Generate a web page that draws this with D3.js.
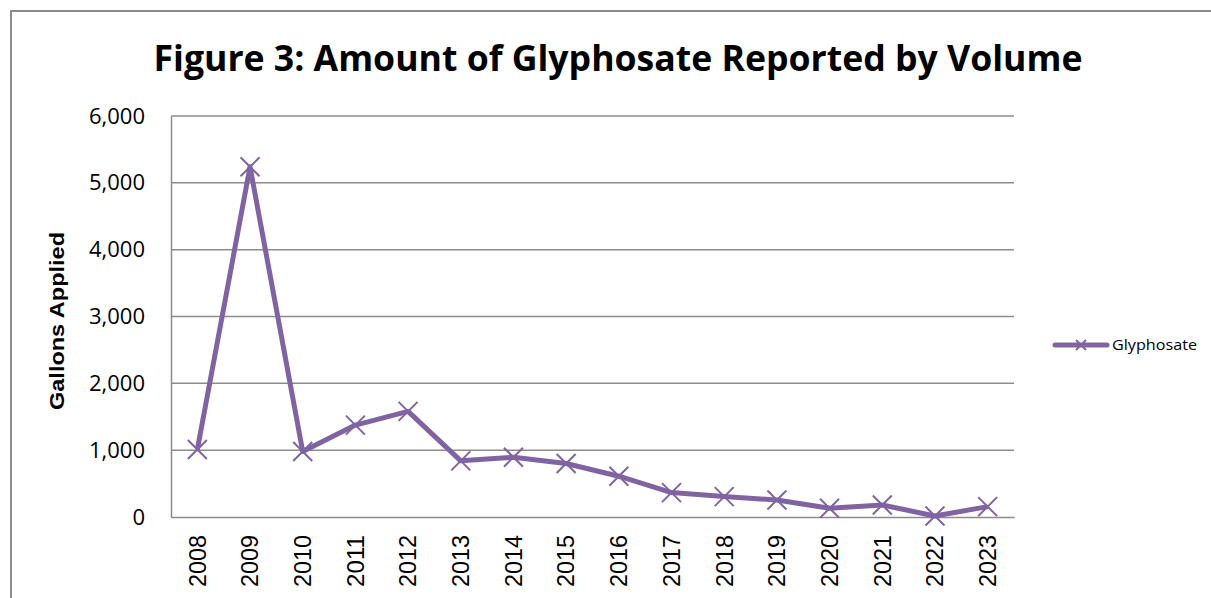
<!DOCTYPE html>
<html lang="en">
<head>
<meta charset="utf-8">
<title>Figure 3: Amount of Glyphosate Reported by Volume</title>
<style type="text/css">
  body { margin: 0; background-color: white; }
  svg { display: block; }
  .grid line { stroke: #8c8c8c; stroke-width: 1.5px; }
  .axis path, .axis line { stroke: #8c8c8c; stroke-width: 1.5px; fill: none; }
  .axis text { fill: #000; }
  path.line { fill: none; stroke: #8064a2; stroke-width: 5px; stroke-linejoin: round; }
  path.marker { fill: none; stroke: #8064a2; stroke-width: 2px; }
</style>
</head>
<body>
<script src="https://cdnjs.cloudflare.com/ajax/libs/d3/7.8.5/d3.min.js"></script>
<script>
  // data
  var years = ["2008", "2009", "2010", "2011", "2012", "2013", "2014", "2015",
               "2016", "2017", "2018", "2019", "2020", "2021", "2022", "2023"];
  var gallons = [1010, 5240, 980, 1375, 1580, 840, 895, 800,
                 610, 365, 305, 255, 130, 180, 15, 155];
  var yTicks = [0, 1000, 2000, 3000, 4000, 5000, 6000];
  var seriesName = "Glyphosate";

  var fullwidth = 1211, fullheight = 598;
  var margin = { top: 116, right: 197, bottom: 81, left: 171 };
  var width = fullwidth - margin.left - margin.right;
  var height = fullheight - margin.top - margin.bottom;

  var svg = d3.select("body").append("svg")
    .attr("width", fullwidth)
    .attr("height", fullheight);

  // outer chart frame (cropped on the right and bottom)
  svg.append("path")
    .attr("d", "M11,620 L11,11 L1230,11")
    .attr("fill", "none")
    .attr("stroke", "#8c8c8c")
    .attr("stroke-width", 2);

  svg.append("text")
    .attr("x", 618)
    .attr("y", 71)
    .attr("text-anchor", "middle")
    .attr("font-family", "'Open Sans', sans-serif")
    .attr("font-weight", "bold")
    .attr("font-size", 35)
    .attr("textLength", 929)
    .attr("lengthAdjust", "spacingAndGlyphs")
    .text("Figure 3: Amount of Glyphosate Reported by Volume");

  var g = svg.append("g")
    .attr("transform", "translate(" + margin.left + "," + margin.top + ")");

  var xScale = d3.scaleBand().domain(years).range([0, width]);
  var yScale = d3.scaleLinear().domain([0, 6000]).range([height, 0]);

  // horizontal gridlines
  g.append("g").attr("class", "grid")
    .selectAll("line")
    .data(yTicks.slice(1))
    .enter().append("line")
    .attr("x1", 0).attr("x2", width)
    .attr("y1", function(d) { return yScale(d); })
    .attr("y2", function(d) { return yScale(d); });

  var yAxis = d3.axisLeft(yScale)
    .tickValues(yTicks)
    .tickSize(0)
    .tickPadding(26)
    .tickFormat(d3.format(","));

  var yG = g.append("g").attr("class", "axis").call(yAxis);
  yG.selectAll("text")
    .attr("font-family", "'Open Sans', sans-serif")
    .attr("font-size", 22);

  var xAxis = d3.axisBottom(xScale).tickSize(0);
  var xG = g.append("g").attr("class", "axis")
    .attr("transform", "translate(0," + height + ")")
    .call(xAxis);
  xG.selectAll("text")
    .attr("font-family", "'Liberation Sans', Arial, sans-serif")
    .attr("font-size", 23)
    .attr("text-anchor", "end")
    .attr("transform", "rotate(-90)")
    .attr("x", -18)
    .attr("y", 0)
    .attr("dy", "0.36em")
    .attr("textLength", 52)
    .attr("lengthAdjust", "spacingAndGlyphs");

  svg.append("text")
    .attr("transform", "translate(64," + 321 + ") rotate(-90)")
    .attr("text-anchor", "middle")
    .attr("font-family", "'Liberation Sans', Arial, sans-serif")
    .attr("font-weight", "bold")
    .attr("font-size", 20)
    .attr("textLength", 178)
    .attr("lengthAdjust", "spacingAndGlyphs")
    .text("Gallons Applied");

  var points = years.map(function(y, i) { return { year: y, amount: gallons[i] }; });

  var line = d3.line()
    .x(function(d) { return xScale(d.year) + xScale.bandwidth() / 2; })
    .y(function(d) { return yScale(d.amount); });

  g.append("path")
    .datum(points)
    .attr("class", "line")
    .attr("d", line);

  var r = 9.5;
  g.selectAll("path.marker")
    .data(points)
    .enter().append("path")
    .attr("class", "marker")
    .attr("transform", function(d) {
      return "translate(" + (xScale(d.year) + xScale.bandwidth() / 2) + "," + yScale(d.amount) + ")";
    })
    .attr("d", "M" + -r + "," + -r + "L" + r + "," + r + "M" + r + "," + -r + "L" + -r + "," + r);

  // legend
  var legend = svg.append("g").attr("transform", "translate(1055,345)");
  legend.append("line")
    .attr("x1", 0).attr("x2", 52)
    .attr("stroke", "#8064a2")
    .attr("stroke-width", 5)
    .attr("stroke-linecap", "round");
  legend.append("path")
    .attr("class", "marker")
    .attr("transform", "translate(26,0)")
    .attr("d", "M-5,-5L5,5M5,-5L-5,5");
  legend.append("text")
    .attr("x", 57)
    .attr("y", 5)
    .attr("font-family", "'Open Sans', sans-serif")
    .attr("font-size", 14)
    .attr("textLength", 85)
    .attr("lengthAdjust", "spacingAndGlyphs")
    .text(seriesName);
</script>
</body>
</html>
